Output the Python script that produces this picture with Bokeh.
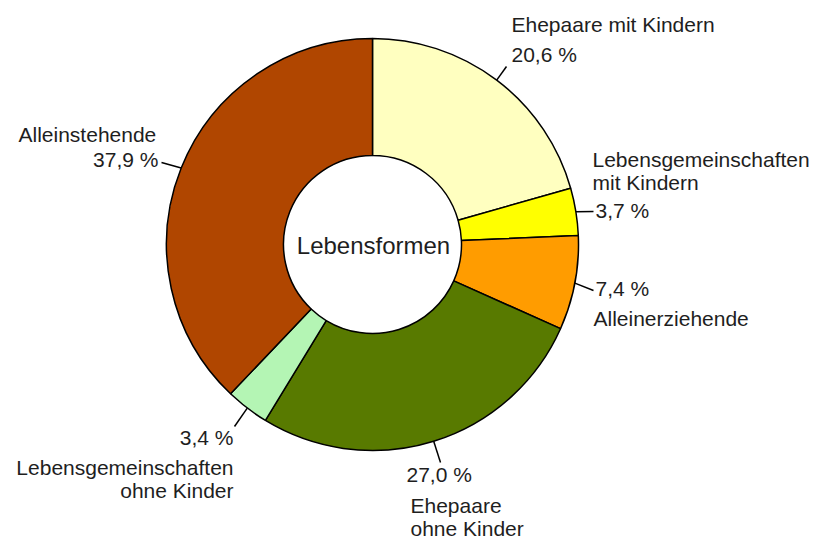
import numpy as np
from bokeh.plotting import figure
from bokeh.models import Range1d, ColumnDataSource
from bokeh.core.properties import value
from bokeh.embed import file_html
from bokeh.resources import INLINE

categories = ["Ehepaare mit Kindern", "Lebensgemeinschaften mit Kindern", "Alleinerziehende",
              "Ehepaare ohne Kinder", "Lebensgemeinschaften ohne Kinder", "Alleinstehende"]
shares = [20.6, 3.7, 7.4, 27.0, 3.4, 37.9]
pct_labels = ["20,6 %", "3,7 %", "7,4 %", "27,0 %", "3,4 %", "37,9 %"]
colors = ["#FFFFC0", "#FFFF00", "#FF9C00", "#587A00", "#B4F5B4", "#B04600"]
title = "Lebensformen"

CX, CY = 372, -244
R_OUT, R_IN = 206, 89

vals = np.array(shares)
frac = vals / vals.sum()
cum = np.concatenate([[0], np.cumsum(frac)])
start = np.pi / 2 - cum[:-1] * 2 * np.pi
end = np.pi / 2 - cum[1:] * 2 * np.pi
mid = (start + end) / 2

p = figure(width=816, height=541, output_backend="svg", toolbar_location=None,
           x_range=Range1d(0, 816), y_range=Range1d(-541, 0), min_border=0)
p.axis.visible = False
p.grid.visible = False
p.outline_line_color = None

src = ColumnDataSource(dict(x=[CX] * len(vals), y=[CY] * len(vals), start=start, end=end,
                            color=colors, name=categories))
p.annular_wedge(x="x", y="y", inner_radius=R_IN, outer_radius=R_OUT,
                start_angle="end", end_angle="start", fill_color="color",
                line_color="black", line_width=1.5, source=src)

# leader lines: from slice edge (mid-angle) to label anchor
ends = [(506, 66), (593, 211), (593, 290), (440, 462), (234, 426), (161, 162)]
x0 = [CX + R_OUT * np.cos(a) for a in mid]
y0 = [CY + R_OUT * np.sin(a) for a in mid]
p.segment(x0=x0, y0=y0, x1=[e[0] for e in ends], y1=[-e[1] for e in ends],
          line_color="black", line_width=1.5)

font = value("Liberation Sans")
tc = "#1e1e1e"
DY = 8

def txt(x, y, s, align="left", size="21px"):
    p.text(x=[x], y=[-(y - DY)], text=[s], text_font=font, text_font_size=size,
           text_color=tc, text_align=align, text_baseline="alphabetic")

# Ehepaare mit Kindern
txt(511, 32, "Ehepaare mit Kindern")
txt(511, 62, pct_labels[0])
# Lebensgemeinschaften mit Kindern
txt(592, 167, "Lebensgemeinschaften")
txt(592, 190, "mit Kindern")
txt(595, 218, pct_labels[1])
# Alleinerziehende
txt(595, 296, pct_labels[2])
txt(593, 326, "Alleinerziehende")
# Ehepaare ohne Kinder
txt(406, 482, pct_labels[3])
txt(410, 513, "Ehepaare")
txt(410, 536, "ohne Kinder")
# Lebensgemeinschaften ohne Kinder
txt(233, 445, pct_labels[4], align="right")
txt(233, 475, "Lebensgemeinschaften", align="right")
txt(233, 498, "ohne Kinder", align="right")
# Alleinstehende
txt(18, 142, "Alleinstehende")
txt(158, 167, pct_labels[5], align="right")

txt(373, 253, title, align="center", size="24px")

open("out.html", "w").write(file_html(p, INLINE))
